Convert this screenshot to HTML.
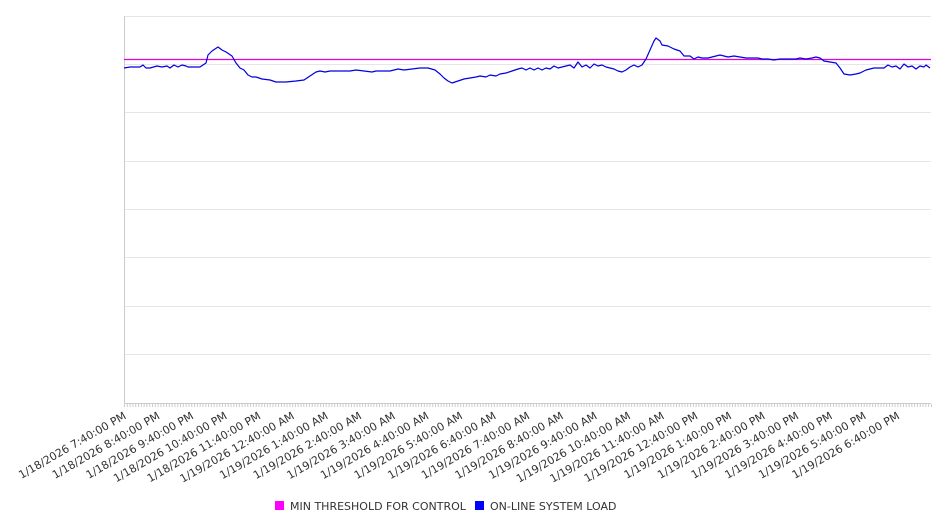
<!DOCTYPE html>
<html><head><meta charset="utf-8"><style>body{margin:0;background:#fff}svg{display:block}</style></head>
<body>
<svg width="946" height="526" xmlns="http://www.w3.org/2000/svg" font-family="DejaVu Sans, Liberation Sans, sans-serif">
<g stroke="#e6e6e6" stroke-width="1">
<line x1="124" y1="16.5" x2="931" y2="16.5"/><line x1="124" y1="64.5" x2="931" y2="64.5"/><line x1="124" y1="112.5" x2="931" y2="112.5"/><line x1="124" y1="161.5" x2="931" y2="161.5"/><line x1="124" y1="209.5" x2="931" y2="209.5"/><line x1="124" y1="257.5" x2="931" y2="257.5"/><line x1="124" y1="306.5" x2="931" y2="306.5"/><line x1="124" y1="354.5" x2="931" y2="354.5"/>
</g>
<line x1="124.5" y1="16" x2="124.5" y2="404" stroke="#ccc"/>
<line x1="124" y1="403.5" x2="931" y2="403.5" stroke="#ccc"/>
<line x1="124" y1="405.5" x2="932" y2="405.5" stroke="#ccc" stroke-width="3" stroke-dasharray="1 1.802"/>
<line x1="124" y1="59.5" x2="931" y2="59.5" stroke="#e000e0" stroke-width="1.2"/>
<polyline fill="none" stroke="#0000e0" stroke-width="1.2" stroke-linejoin="round" points="124,68 130,67 140,67 143,65 146,68 150,68 157,66 162,67 167,66 170,68 174,65 178,67 182,65 186,66 188,67 200,67 206,63 208,55 212,51 218,47 222,50 226,52 232,56 236,63 240,68 244,70 248,75 252,77 256,77 262,79 270,80 276,82 286,82 296,81 304,80 310,76 316,72 320,71 325,72 330,71 340,71 350,71 356,70 364,71 372,72 376,71 390,71 398,69 404,70 412,69 420,68 428,68 435,70 440,74 444,78 448,81 452,83 458,81 464,79 470,78 476,77 480,76 486,77 490,75 496,76 500,74 506,73 512,71 518,69 522,68 526,70 530,68 534,70 538,68 542,70 546,68 550,69 554,66 558,68 562,67 566,66 570,65 574,68 578,62 582,67 586,65 590,68 594,64 598,66 602,65 606,67 610,68 614,69 618,71 622,72 626,70 630,67 634,65 638,67 642,65 646,59 650,50 654,41 656,38 660,41 662,45 668,46 674,49 680,51 684,56 690,56 694,59 698,57 702,58 708,58 712,57 716,56 720,55 724,56 728,57 734,56 740,57 746,58 752,58 758,58 762,59 768,59 774,60 780,59 786,59 790,59 796,59 800,58 806,59 812,58 816,57 820,58 824,61 830,62 836,63 840,68 844,74 850,75 856,74 860,73 866,70 870,69 874,68 880,68 884,68 888,65 892,67 896,66 900,69 904,64 908,67 912,66 916,69 920,66 924,67 926,65 930,68"/>
<g font-size="11" fill="#333" text-anchor="end">
<text transform="translate(127,418) rotate(-30)">1/18/2026 7:40:00 PM</text>
<text transform="translate(160.6,418) rotate(-30)">1/18/2026 8:40:00 PM</text>
<text transform="translate(194.3,418) rotate(-30)">1/18/2026 9:40:00 PM</text>
<text transform="translate(227.9,418) rotate(-30)">1/18/2026 10:40:00 PM</text>
<text transform="translate(261.5,418) rotate(-30)">1/18/2026 11:40:00 PM</text>
<text transform="translate(295.1,418) rotate(-30)">1/19/2026 12:40:00 AM</text>
<text transform="translate(328.8,418) rotate(-30)">1/19/2026 1:40:00 AM</text>
<text transform="translate(362.4,418) rotate(-30)">1/19/2026 2:40:00 AM</text>
<text transform="translate(396,418) rotate(-30)">1/19/2026 3:40:00 AM</text>
<text transform="translate(429.6,418) rotate(-30)">1/19/2026 4:40:00 AM</text>
<text transform="translate(463.3,418) rotate(-30)">1/19/2026 5:40:00 AM</text>
<text transform="translate(496.9,418) rotate(-30)">1/19/2026 6:40:00 AM</text>
<text transform="translate(530.5,418) rotate(-30)">1/19/2026 7:40:00 AM</text>
<text transform="translate(564.1,418) rotate(-30)">1/19/2026 8:40:00 AM</text>
<text transform="translate(597.8,418) rotate(-30)">1/19/2026 9:40:00 AM</text>
<text transform="translate(631.4,418) rotate(-30)">1/19/2026 10:40:00 AM</text>
<text transform="translate(665,418) rotate(-30)">1/19/2026 11:40:00 AM</text>
<text transform="translate(698.6,418) rotate(-30)">1/19/2026 12:40:00 PM</text>
<text transform="translate(732.3,418) rotate(-30)">1/19/2026 1:40:00 PM</text>
<text transform="translate(765.9,418) rotate(-30)">1/19/2026 2:40:00 PM</text>
<text transform="translate(799.5,418) rotate(-30)">1/19/2026 3:40:00 PM</text>
<text transform="translate(833.1,418) rotate(-30)">1/19/2026 4:40:00 PM</text>
<text transform="translate(866.8,418) rotate(-30)">1/19/2026 5:40:00 PM</text>
<text transform="translate(900.4,418) rotate(-30)">1/19/2026 6:40:00 PM</text>
</g>
<rect x="275" y="501" width="9" height="9" fill="#ff00ff"/>
<text x="290" y="510" font-size="11" fill="#333">MIN THRESHOLD FOR CONTROL</text>
<rect x="475" y="501" width="9" height="9" fill="#0000ff"/>
<text x="490" y="510" font-size="11" fill="#333">ON-LINE SYSTEM LOAD</text>
</svg>
</body></html>
